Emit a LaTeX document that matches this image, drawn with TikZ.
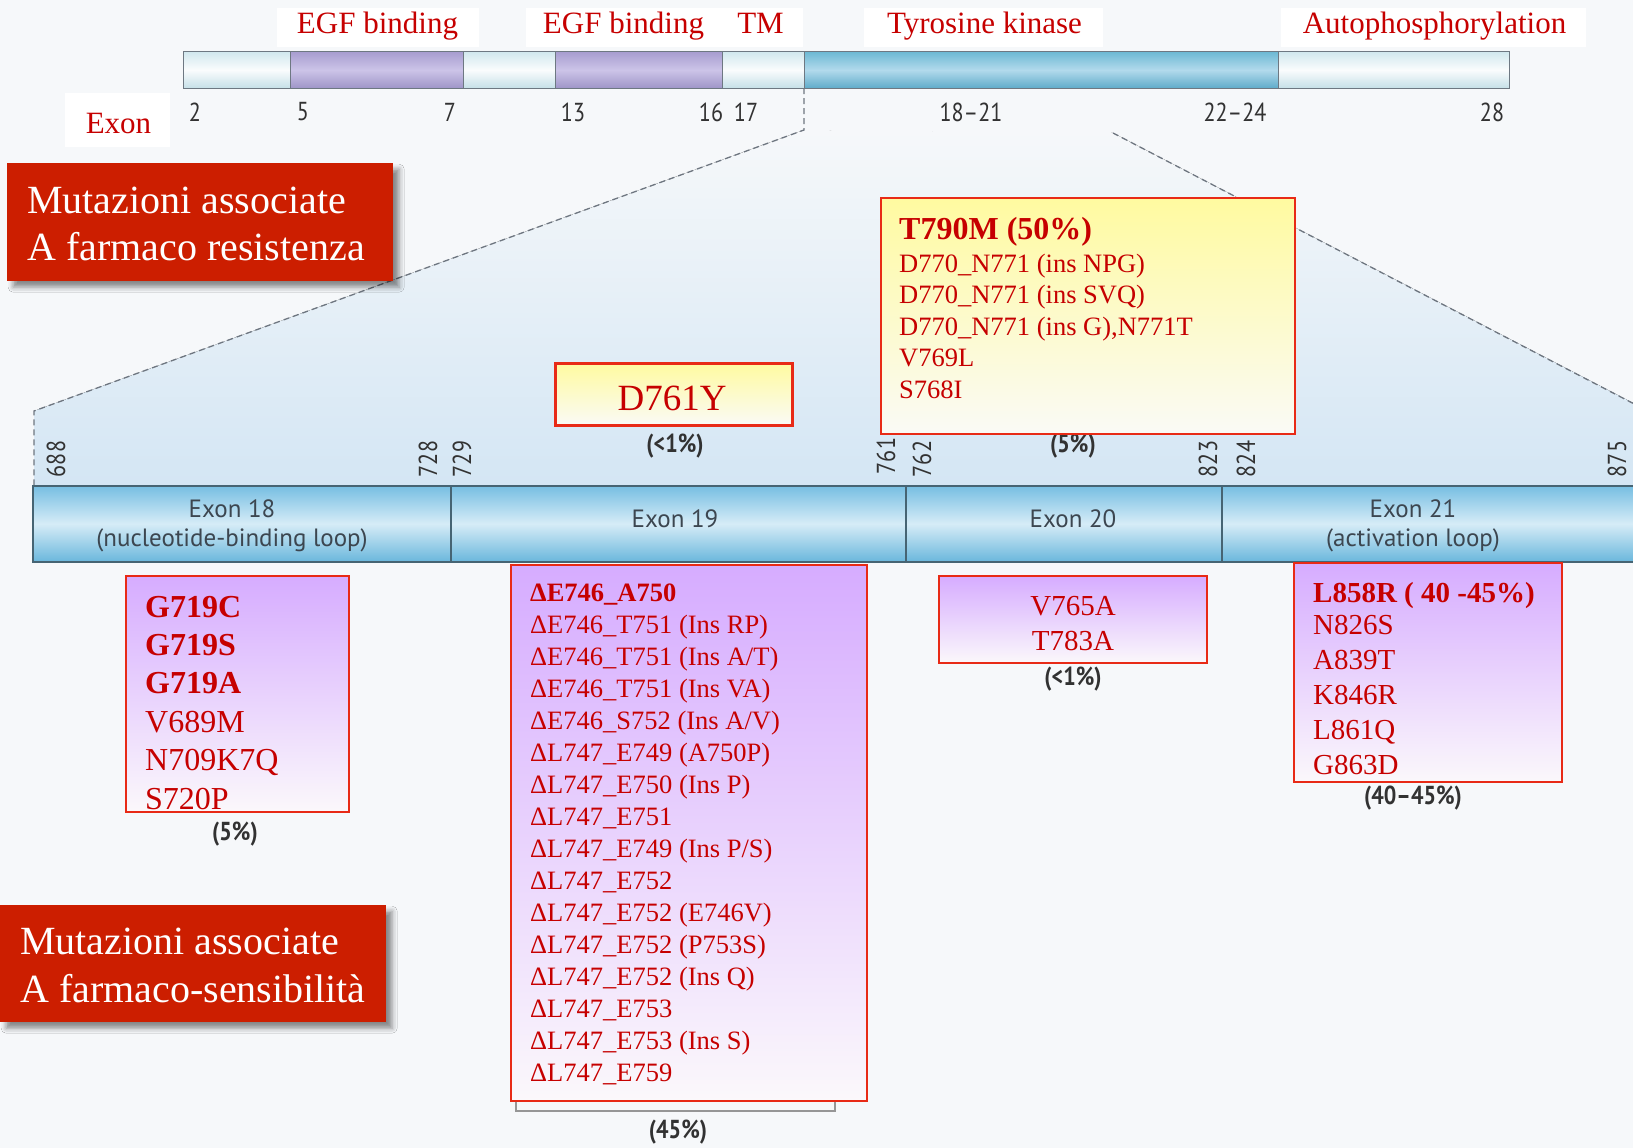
\documentclass[tikz,border=0pt]{standalone}
\usepackage{fontspec}
\setmainfont{Liberation Serif}
\newfontfamily\labf{PT Sans}
\newfontfamily\numf[FakeStretch=0.85]{PT Sans}
\usetikzlibrary{shadows.blur}
\definecolor{bgc}{RGB}{246,248,250}
\definecolor{boxred}{RGB}{204,30,0}
\definecolor{txtred}{RGB}{198,0,0}
\definecolor{bord}{RGB}{232,42,22}
\definecolor{purptop}{RGB}{214,172,255}
\definecolor{purpbot}{RGB}{251,248,251}
\definecolor{yeltop}{RGB}{255,250,160}
\definecolor{yelbot}{RGB}{250,250,246}
\definecolor{numgray}{RGB}{50,50,50}
\definecolor{labgray}{RGB}{60,70,80}
\definecolor{dashgray}{RGB}{110,118,128}
\definecolor{fantop}{RGB}{246,248,250}
\definecolor{fanbot}{RGB}{212,230,244}
\definecolor{exontop}{RGB}{118,190,226}
\definecolor{exonmid}{RGB}{214,236,247}
\definecolor{exonbot}{RGB}{106,183,220}
\definecolor{exonline}{RGB}{70,100,115}
\definecolor{lsegt}{RGB}{210,232,238}
\definecolor{lsegm}{RGB}{250,252,253}
\definecolor{lsegb}{RGB}{198,224,232}
\definecolor{psegt}{RGB}{168,158,208}
\definecolor{psegm}{RGB}{204,196,232}
\definecolor{psegb}{RGB}{160,150,200}
\definecolor{bsegt}{RGB}{110,185,212}
\definecolor{bsegm}{RGB}{178,218,236}
\definecolor{bsegb}{RGB}{96,172,202}
\definecolor{barline}{RGB}{110,120,130}
\definecolor{brgray}{RGB}{150,150,150}
\begin{document}
\begin{tikzpicture}[x=1pt,y=-1pt,
  redbox/.style={fill=boxred, draw=none, inner sep=0, anchor=north west,
    blur shadow={shadow xshift=6pt,shadow yshift=-6pt,shadow blur radius=5pt,shadow opacity=45}},
  redtxt/.style={text=white, font=\fontsize{40}{47}\selectfont, anchor=base west, inner sep=0},
  mutbox/.style={draw=bord, line width=2pt, top color=purptop, bottom color=purpbot, inner sep=0, anchor=north west},
  yelbox/.style={draw=bord, line width=2pt, top color=yeltop, bottom color=yelbot, inner sep=0, anchor=north west},
  mt/.style={text=txtred, anchor=base west, inner sep=0, font=\fontsize{#1}{#1}\selectfont},
  mc/.style={text=txtred, anchor=base, inner sep=0, font=\fontsize{#1}{#1}\selectfont},
  toplab/.style={text=txtred, anchor=base, inner sep=0, font=\fontsize{31}{31}\selectfont},
  patch/.style={fill=white, draw=none},
  pct/.style={text=numgray, inner sep=0, font=\numf\bfseries\fontsize{26}{26}\selectfont},
  posnum/.style={text=numgray, inner sep=0, rotate=90, font=\numf\fontsize{26}{26}\selectfont},
  tnum/.style={text=numgray, inner sep=0, font=\numf\fontsize{26}{26}\selectfont},
  exlab/.style={text=labgray, inner sep=0, font=\labf\fontsize{25}{25}\selectfont},
  dsh/.style={draw=dashgray, line width=1.3pt, dash pattern=on 6pt off 4pt},
  lseg/.style={top color=lsegt, bottom color=lsegb, middle color=lsegm},
  pseg/.style={top color=psegt, bottom color=psegb, middle color=psegm},
  bseg/.style={top color=bsegt, bottom color=bsegb, middle color=bsegm},
  segline/.style={draw=barline, line width=1pt}
]
\useasboundingbox (0,0) rectangle (1633,1148);
\fill[bgc] (0,0) rectangle (1633,1148);
% white patches behind top labels
\fill[patch] (277,8) rectangle (479,47);
\fill[patch] (526,8) rectangle (803,47);
\fill[patch] (864,8) rectangle (1103,47);
\fill[patch] (1281,8) rectangle (1586,47);
\fill[patch] (65,93) rectangle (170,147);
% fan
\fill[top color=fantop, bottom color=fanbot] (804,130) -- (1113,133) -- (1633,403) -- (1633,485) -- (34,485) -- (34,411) -- cycle;
\draw[bgc, line width=3pt] (806,129) -- (1111,132);
\coordinate (ta) at (804,88);
\coordinate (tb) at (804,130);
\coordinate (tc) at (34,411);
\coordinate (td) at (34,485);
\coordinate (ra) at (1113,133);
\coordinate (rb) at (1640,407);
\draw[dsh] (ta) -- (tb) -- (tc) -- (td);
\draw[dsh] (ra) -- (rb);
% top bar
\fill[lseg] (183,52) rectangle (290,88);
\fill[pseg] (290,52) rectangle (463,88);
\fill[lseg] (463,52) rectangle (555,88);
\fill[pseg] (555,52) rectangle (722,88);
\fill[lseg] (722,52) rectangle (804,88);
\fill[bseg] (804,52) rectangle (1278,88);
\fill[lseg] (1278,52) rectangle (1509,88);
\draw[segline] (183,52) rectangle (1509,88);
\foreach \xx in {290,463,555,722,804,1278} \draw[segline] (\xx,52) -- (\xx,88);
% top labels
\node[toplab] (egf1) at (377.5,34) {EGF binding};
\node[toplab] (egf2) at (623.5,34) {EGF binding};
\node[toplab] (tm) at (760.5,34) {TM};
\node[toplab] (tk) at (984.5,34) {Tyrosine kinase};
\node[toplab] (auto) at (1434.5,34) {Autophosphorylation};
\node[toplab] (exon) at (118.5,133) {Exon};
% top numbers
\node[tnum] (n2) at (195,112) {2};
\node[tnum] (n5) at (303,112) {5};
\node[tnum] (n7) at (450,112) {7};
\node[tnum] (n13) at (573,112) {13};
\node[tnum] (n16) at (711,112) {16};
\node[tnum] (n17) at (746,112) {17};
\node[tnum] (n18) at (971,112) {18–21};
\node[tnum] (n22) at (1235,112) {22–24};
\node[tnum] (n28) at (1492,112) {28};
% exon bar
\node[draw=exonline, line width=1.5pt, top color=exontop, bottom color=exonbot, middle color=exonmid,
  minimum width=1613, minimum height=76, anchor=north west, inner sep=0] (exbar) at (32,485) {};
\foreach \xx in {451,906,1222} \draw[exonline, line width=1.5pt] (\xx,485) -- (\xx,561);
\node[exlab] (e18) at (232,509) {Exon 18};
\node[exlab] (e18b) at (232,540) {(nucleotide-binding loop)};
\node[exlab] (e19) at (675,519) {Exon 19};
\node[exlab] (e20) at (1073,519) {Exon 20};
\node[exlab] (e21) at (1413,509) {Exon 21};
\node[exlab] (e21b) at (1413,540) {(activation loop)};
% position numbers
\node[posnum] (p688) at (56,459) {688};
\node[posnum] (p728) at (428,459) {728};
\node[posnum] (p729) at (462,459) {729};
\node[posnum] (p761) at (886,456) {761};
\node[posnum] (p762) at (922,459) {762};
\node[posnum] (p823) at (1208,459) {823};
\node[posnum] (p824) at (1246,459) {824};
\node[posnum] (p875) at (1617,459) {875};
% percentages
\node[pct] (c1) at (675,446) {(<1\%)};
\node[pct] (c2) at (1073,446) {(5\%)};
\node[pct] (c3) at (235,834) {(5\%)};
\node[pct] (c4) at (1073,679) {(<1\%)};
\node[pct] (c5) at (1413,798) {(40–45\%)};
\node[pct] (c6) at (678,1132) {(45\%)};
% red label boxes
\node[redbox, minimum width=386, minimum height=118] (res) at (7,163) {};
\node[redtxt] (res1) at (27,213) {Mutazioni associate};
\node[redtxt] (res2) at (27,260) {A farmaco resistenza};
\node[redbox, minimum width=386, minimum height=117] (sen) at (0,905) {};
\node[redtxt] (sen1) at (20,954) {Mutazioni associate};
\node[redtxt] (sen2) at (20,1002) {A farmaco-sensibilità};
% D761Y
\node[yelbox, line width=2.5pt, minimum width=237, minimum height=62] (dbox) at (554,362) {};
\node[mc=37] (dtxt) at (672,410) {D761Y};
% T790M box
\node[yelbox, minimum width=414, minimum height=236] (tbox) at (880,197) {};
\node[mt=32] (t0) at (899,239) {\bfseries T790M (50\%)};
\foreach [count=\i] \t in {{D770\_N771 (ins NPG)},{D770\_N771 (ins SVQ)},{D770\_N771 (ins G),N771T},V769L,S768I}
  \node[mt=26.5] (t\i) at (899,{240.5+31.6*\i}) {\t};
% G719 box
\node[mutbox, minimum width=223, minimum height=236] (gbox) at (125,575) {};
\foreach [count=\i] \t in {G719C,G719S,G719A}
  \node[mt=32] (g\i) at (145,{617+38.4*(\i-1)}) {\bfseries\t};
\foreach [count=\i] \t in {V689M,N709K7Q,S720P}
  \node[mt=32] (gg\i) at (145,{732+38.5*(\i-1)}) {\t};
% bracket under deletion box
\coordinate (bk1) at (516,1096);
\coordinate (bk2) at (516,1111);
\coordinate (bk3) at (835,1111);
\coordinate (bk4) at (835,1096);
\draw[brgray, line width=2pt] (bk1) -- (bk2) -- (bk3) -- (bk4);
% deletion box
\node[mutbox, minimum width=356, minimum height=536] (dbx) at (510,564) {};
\node[mt=26.5] (d0) at (530,601) {\bfseries ΔE746\_A750};
\foreach [count=\i] \t in {{ΔE746\_T751 (Ins RP)},{ΔE746\_T751 (Ins A/T)},{ΔE746\_T751 (Ins VA)},{ΔE746\_S752 (Ins A/V)},{ΔL747\_E749 (A750P)},{ΔL747\_E750 (Ins P)},{ΔL747\_E751},{ΔL747\_E749 (Ins P/S)},{ΔL747\_E752},{ΔL747\_E752 (E746V)},{ΔL747\_E752 (P753S)},{ΔL747\_E752 (Ins Q)},{ΔL747\_E753},{ΔL747\_E753 (Ins S)},{ΔL747\_E759}}
  \node[mt=26.5] (d\i) at (530,{601+32*\i}) {\t};
% V765A box
\node[mutbox, minimum width=268, minimum height=87] (vbox) at (938,575) {};
\node[mc=29] (v1) at (1073,615) {V765A};
\node[mc=29] (v2) at (1073,650) {T783A};
% L858R box
\node[mutbox, minimum width=268, minimum height=219] (lbox) at (1293,562) {};
\node[mt=29] (l0) at (1313,602) {\bfseries L858R ( 40 -45\%)};
\foreach [count=\i] \t in {N826S,A839T,K846R,L861Q,G863D}
  \node[mt=29] (l\i) at (1313,{599+35*\i}) {\t};
\end{tikzpicture}
\end{document}
